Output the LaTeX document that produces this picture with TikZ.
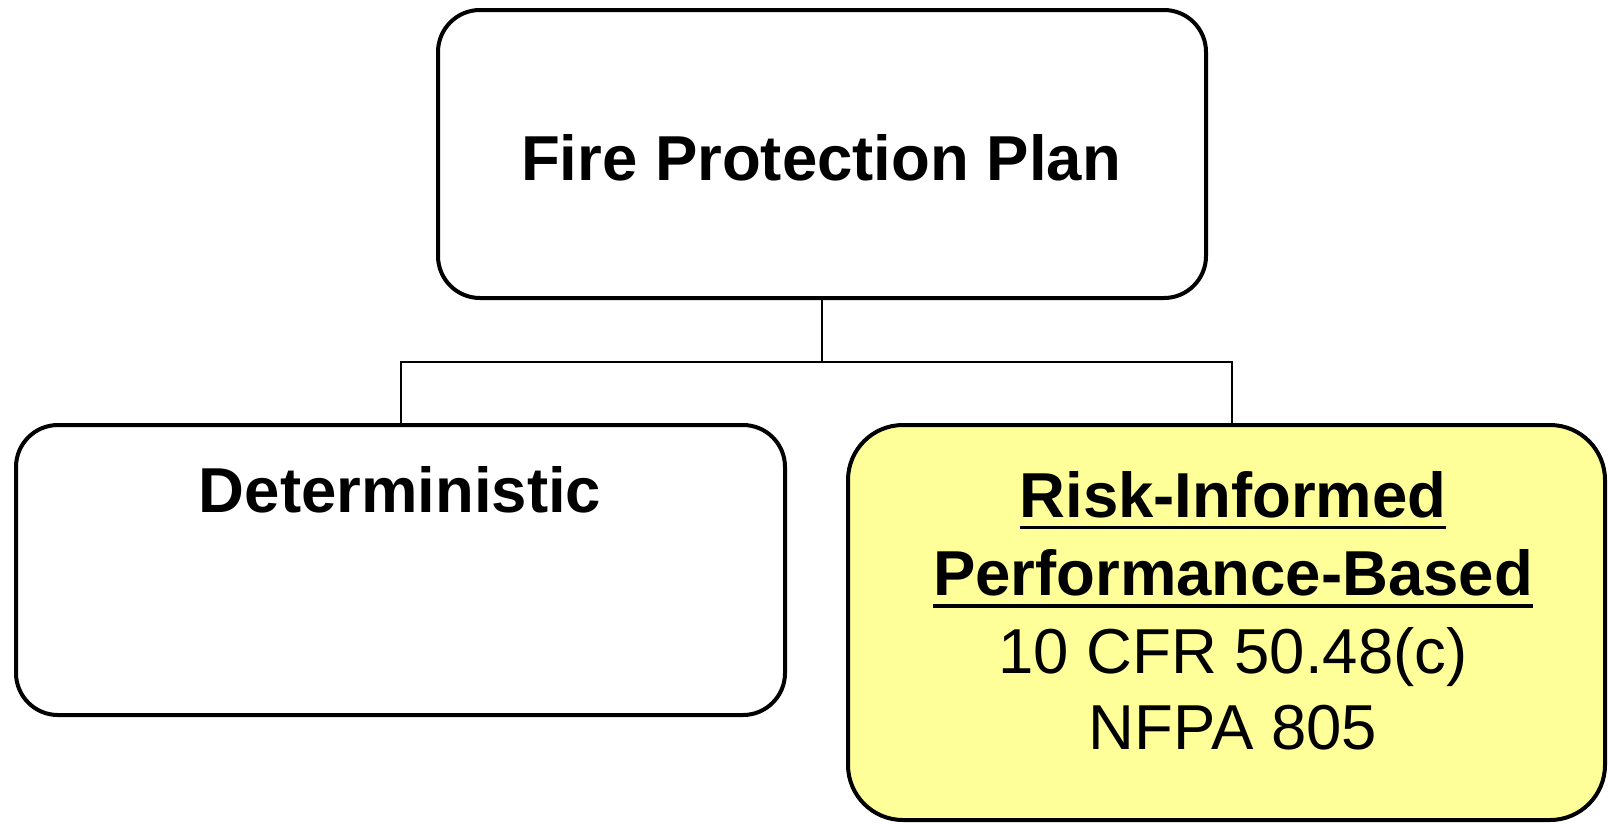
\documentclass[tikz,border=0pt]{standalone}
\usepackage{fontspec}
\setmainfont{Liberation Sans}
\definecolor{boxyellow}{HTML}{FFFF99}
\begin{document}
\begin{tikzpicture}[x=1pt,y=-1pt,
  box/.style={draw=black,line width=4pt,inner sep=0pt,outer sep=0pt,rectangle},
  txt/.style={inner sep=0pt,outer sep=0pt,anchor=base,font=\fontsize{63.5}{76}\selectfont},
  conn/.style={draw=black,line width=2pt}]
\useasboundingbox (0,0) rectangle (1608,823);
\node[box,rounded corners=42pt,minimum width=768pt,minimum height=288pt] (top) at (822,154) {};
\node[box,rounded corners=42pt,minimum width=769pt,minimum height=290pt] (det) at (400.5,570) {};
\node[box,fill=boxyellow,rounded corners=55pt,minimum width=757pt,minimum height=395pt] (rip) at (1226.5,622.5) {};
\node[txt,font=\fontsize{63.5}{76}\selectfont\bfseries] (fpp) at (821,180.5) {Fire Protection Plan};
\node[txt,font=\fontsize{63.5}{76}\selectfont\bfseries] (dtxt) at (400,512) {Deterministic};
\node[txt,font=\fontsize{63.5}{76}\selectfont\bfseries] (ri) at (1233,517) {Risk-Informed};
\node[txt,font=\fontsize{63.5}{76}\selectfont\bfseries] (pb) at (1233,595) {Performance-Based};
\node[txt] (cfr) at (1233,673) {10 CFR 50.48(c)};
\node[txt] (nfpa) at (1233,749) {NFPA 805};
\draw[line width=3.5pt] ([yshift=-10.5pt]ri.base west) -- ([yshift=-10.5pt]ri.base east);
\draw[line width=3.5pt] ([yshift=-11pt]pb.base west) -- ([yshift=-11pt]pb.base east);
\coordinate (jn) at (822,362);
\draw[conn] (top.south) -- (jn);
\draw[conn] (det.north) |- (jn);
\draw[conn] (1232,425) |- (jn);
\end{tikzpicture}
\end{document}
